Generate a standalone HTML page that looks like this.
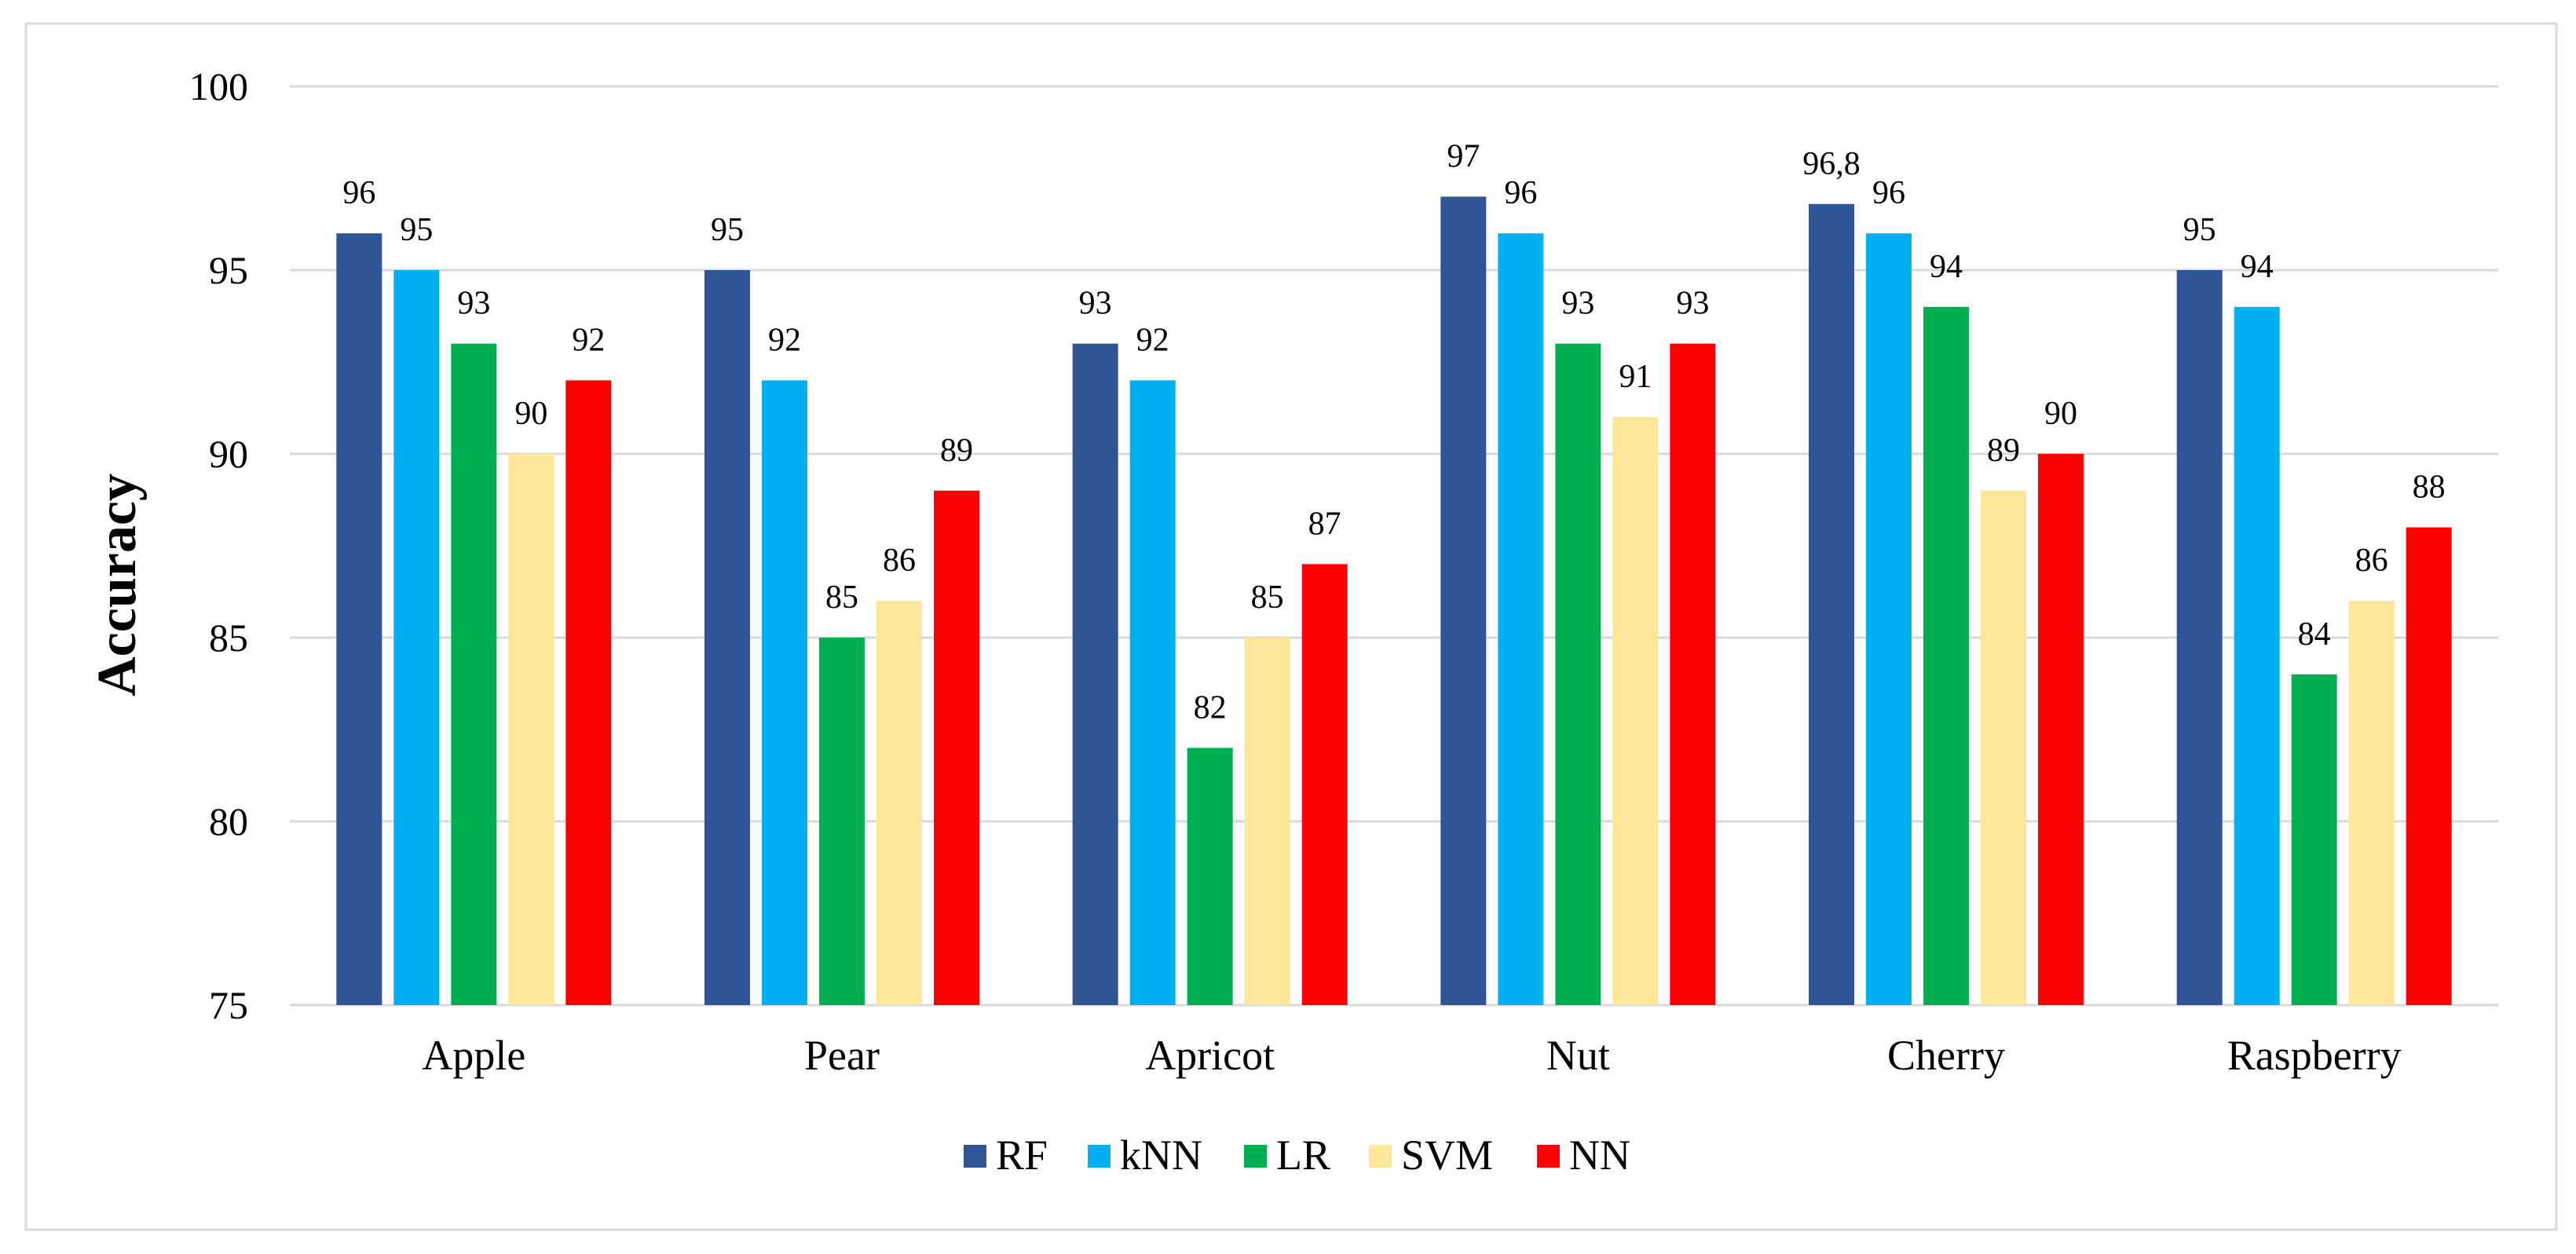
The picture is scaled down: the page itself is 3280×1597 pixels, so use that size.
<!DOCTYPE html>
<html><head><meta charset="utf-8"><style>
html,body{margin:0;padding:0;background:#fff;}
svg{display:block;font-family:"Liberation Serif",serif;}
svg text{font-family:"Liberation Serif",serif;}
</style></head><body>
<svg id="chart" width="3280" height="1597" viewBox="0 0 3280 1597" xmlns="http://www.w3.org/2000/svg" font-family="Liberation Serif, serif">
<rect x="33" y="30" width="3222" height="1536" fill="#fff" stroke="#d9d9d9" stroke-width="3"/>
<g id="grid"></g><g id="bars"></g><g id="labels"></g>
<text transform="translate(172,745) rotate(-90)" text-anchor="middle" font-size="70" font-weight="bold" fill="#000">Accuracy</text>
<g id="legend"></g>
</svg>
<script>
const categories=["Apple","Pear","Apricot","Nut","Cherry","Raspberry"];
const seriesNames=["RF","kNN","LR","SVM","NN"];
const rfValues=[96,95,93,97,96.8,95];
const knnValues=[95,92,92,96,96,94];
const lrValues=[93,85,82,93,94,84];
const svmValues=[90,86,85,91,89,86];
const nnValues=[92,89,87,93,90,88];
const valueLabels=[["96","95","93","90","92"],["95","92","85","86","89"],["93","92","82","85","87"],["97","96","93","91","93"],["96,8","96","94","89","90"],["95","94","84","86","88"]];
const yTicks=[75,80,85,90,95,100];
const colors=["#2F5597","#00B0F0","#00B050","#FFE699","#FF0000"];
const series=[rfValues,knnValues,lrValues,svmValues,nnValues];
const NS="http://www.w3.org/2000/svg";
const L=369,R=3181,T=110,B=1280,ymin=75,ymax=100;
const y=v=>B-(v-ymin)/(ymax-ymin)*(B-T);
const gw=(R-L)/categories.length;
const bw=58,step=73;
const x=(ci,si)=>L+gw*(ci+0.5)-(step*4+bw)/2+si*step;
function mk(tag,attrs,parent){const e=document.createElementNS(NS,tag);for(const k in attrs)e.setAttribute(k,attrs[k]);parent.appendChild(e);return e;}
const grid=document.getElementById('grid'),bars=document.getElementById('bars'),labels=document.getElementById('labels'),legend=document.getElementById('legend');
yTicks.forEach(t=>{
 const ln=mk('line',{x1:L,x2:R,y1:y(t),y2:y(t),stroke:'#d9d9d9','stroke-width':3},grid);
 
 
 const tx=mk('text',{x:316,y:y(t)+17,'text-anchor':'end','font-size':50,fill:'#000'},grid);
 tx.textContent=t;
 
 
});
categories.forEach((c,ci)=>{
 series.forEach((s,si)=>{
  const r=mk('rect',{x:x(ci,si),y:y(s[ci]),width:bw,height:B-y(s[ci]),fill:colors[si]},bars);
  
  
  const t=mk('text',{x:x(ci,si)+bw/2,y:y(s[ci])-38,'text-anchor':'middle','font-size':42,fill:'#000'},labels);
  t.textContent=valueLabels[ci][si];
  
  
 });
 const ct=mk('text',{x:L+gw*(ci+0.5),y:1362,'text-anchor':'middle','font-size':54,fill:'#000'},labels);
 ct.textContent=c;
 
 
});
const legX=[1227,1385,1584,1743,1957];
seriesNames.forEach((n,i)=>{
 const sq=mk('rect',{x:legX[i],y:1458,width:29,height:29,fill:colors[i]},legend);
 
 
 const t=mk('text',{x:legX[i]+41,y:1489,'font-size':54,fill:'#000'},legend);
 t.textContent=n;
 
 
});
</script>
</body></html>
